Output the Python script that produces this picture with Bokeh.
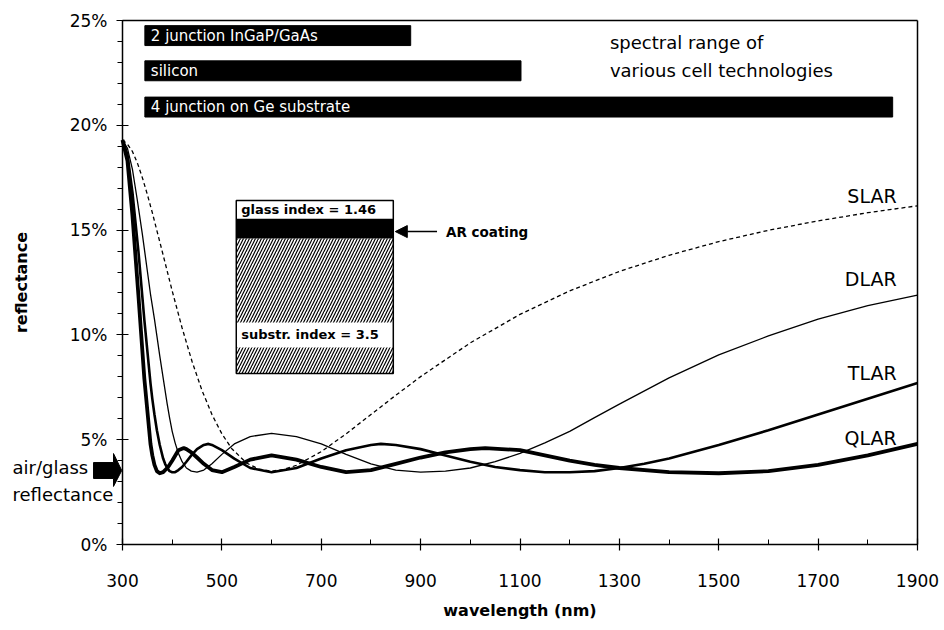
from bokeh.plotting import figure
from bokeh.models import (FixedTicker, PrintfTickFormatter, Label, Arrow, NormalHead,
                          PolyAnnotation, Range1d, LinearAxis)
from bokeh.embed import file_html
from bokeh.resources import INLINE
from bokeh.core.properties import value

FONT = "DejaVu Sans"

# ---------------- data ----------------
cell_names = ["2 junction InGaP/GaAs", "silicon", "4 junction  on Ge substrate"]
cell_start = [345, 345, 345]
cell_end = [880, 1102, 1850]

slar_wl = [300, 310, 320, 330, 340, 350, 360, 380, 400, 420, 440, 460, 480, 500, 520, 550, 575,
           600, 625, 650, 700, 750, 800, 850, 900, 1000, 1100, 1200, 1300, 1400, 1500, 1600,
           1700, 1800, 1900]
slar_r = [19.3, 19.1, 18.75, 18.2, 17.5, 16.7, 15.83, 13.98, 12.1, 10.33, 8.73, 7.35, 6.2, 5.28,
          4.57, 3.88, 3.6, 3.5, 3.58, 3.78, 4.43, 5.28, 6.2, 7.12, 8.01, 9.62, 10.98, 12.1, 13.03,
          13.8, 14.45, 14.99, 15.44, 15.83, 16.16]

dlar_wl = [300, 310, 320, 330, 340, 350, 356.3, 360, 364.3, 369.2, 375, 381.8, 390, 394.7, 400,
           405.9, 412.5, 420, 428.6, 438.5, 450, 463.6, 480, 500, 525, 557.1, 600, 650, 700, 750,
           800, 850, 900, 950, 1000, 1050, 1100, 1150, 1200, 1250, 1300, 1400, 1500, 1600, 1700,
           1800, 1900]
dlar_r = [19.3, 18.9, 17.9, 16.4, 14.8, 13.05, 11.95, 11.4, 10.75, 9.95, 9.0, 7.95, 6.7, 6.05, 5.4,
          4.85, 4.35, 3.95, 3.65, 3.5, 3.45, 3.55, 3.85, 4.3, 4.8, 5.15, 5.3, 5.15, 4.8, 4.3, 3.85,
          3.55, 3.45, 3.5, 3.65, 3.95, 4.35, 4.85, 5.4, 6.05, 6.7, 7.95, 9.05, 9.95, 10.75, 11.4,
          11.9]

tlar_wl = [300, 310, 320, 332, 344, 356.3, 360, 364.3, 369.2, 375, 381.8, 385.7, 390, 394.7, 400,
           405.9, 412.5, 420, 428.6, 438.5, 450, 463.6, 473.1, 480, 500, 525, 557.1, 600, 650,
           700, 750, 800, 820, 850, 900, 950, 1000, 1050, 1100, 1150, 1200, 1250, 1300, 1350,
           1400, 1500, 1600, 1700, 1800, 1900]
tlar_r = [19.3, 18.6, 16.8, 14.0, 10.7, 7.7, 6.95, 6.2, 5.45, 4.75, 4.1, 3.85, 3.65, 3.5, 3.45,
          3.45, 3.55, 3.7, 3.95, 4.25, 4.55, 4.75, 4.8, 4.75, 4.5, 4.1, 3.65, 3.45, 3.65, 4.1,
          4.5, 4.75, 4.8, 4.75, 4.55, 4.25, 3.95, 3.7, 3.55, 3.45, 3.45, 3.5, 3.65, 3.85, 4.1,
          4.75, 5.45, 6.2, 6.95, 7.7]

qlar_wl = [300, 310, 320, 332, 344, 356.3, 360, 364.3, 369.2, 375, 381.8, 390, 394.7, 400, 412.5,
           423.3, 428.6, 438.5, 450, 463.6, 480, 500, 525, 557.1, 600, 650, 700, 750, 800, 850,
           900, 950, 1000, 1030, 1100, 1200, 1250, 1300, 1400, 1500, 1600, 1700, 1800, 1900]
qlar_r = [19.3, 18.3, 15.7, 11.9, 7.9, 4.8, 4.25, 3.8, 3.5, 3.4, 3.45, 3.65, 3.8, 4.0, 4.5, 4.6,
          4.55, 4.4, 4.15, 3.85, 3.55, 3.45, 3.7, 4.05, 4.25, 4.05, 3.7, 3.45, 3.55, 3.85, 4.15,
          4.4, 4.55, 4.6, 4.5, 4.0, 3.8, 3.65, 3.45, 3.4, 3.5, 3.8, 4.25, 4.8]

curve_names = ["SLAR", "DLAR", "TLAR", "QLAR"]
air_glass_reflectance = 3.53

x_ticks = [300, 500, 700, 900, 1100, 1300, 1500, 1700, 1900]
x_minor = [400, 600, 800, 1000, 1200, 1400, 1600, 1800]
y_ticks = [0, 5, 10, 15, 20, 25]
y_minor = [1, 2, 3, 4, 6, 7, 8, 9, 11, 12, 13, 14, 16, 17, 18, 19, 21, 22, 23, 24]

# ---------------- layout constants ----------------
W, H = 944, 630
X_MIN, X_MAX = 300, 1900
Y_MIN, Y_MAX = 0, 25
PX_X0, PX_X1 = 122, 917      # pixel columns of 300 nm and 1900 nm
PX_Y1, PX_Y0 = 20, 544       # pixel rows of 25 % and 0 %
sx = (PX_X1 - PX_X0) / (X_MAX - X_MIN)
sy = (PX_Y0 - PX_Y1) / (Y_MAX - Y_MIN)
# the frame covers the whole canvas; axes are pinned with fixed_location
x_lo, x_hi = X_MIN - PX_X0 / sx, X_MAX + (W - PX_X1) / sx
y_lo, y_hi = Y_MIN - (H - PX_Y0) / sy, Y_MAX + PX_Y1 / sy

p = figure(width=W, height=H, x_range=Range1d(x_lo, x_hi), y_range=Range1d(y_lo, y_hi),
           output_backend="svg", toolbar_location=None,
           min_border_left=0, min_border_right=0, min_border_top=0, min_border_bottom=0)
p.xgrid.visible = False
p.ygrid.visible = False
p.outline_line_color = None
p.background_fill_color = "white"
p.border_fill_color = "white"

for ax in (p.xaxis[0], p.yaxis[0]):
    ax.axis_line_width = 1.5
    ax.axis_line_color = "black"
    ax.major_tick_line_color = "black"
    ax.minor_tick_line_color = "black"
    ax.major_tick_line_width = 1.2
    ax.minor_tick_line_width = 1
    ax.major_tick_in = 6
    ax.major_tick_out = 6
    ax.major_label_text_font = FONT
    ax.major_label_text_font_size = "17px"
    ax.major_label_text_color = "black"
    ax.axis_label_text_font = FONT
    ax.axis_label_text_font_size = "16px"
    ax.axis_label_text_font_style = "bold"
    ax.axis_label_text_color = "black"

p.xaxis.fixed_location = Y_MIN
p.xaxis.ticker = FixedTicker(ticks=x_ticks, minor_ticks=x_minor)
p.xaxis.bounds = (X_MIN, X_MAX)
p.xaxis.minor_tick_in = 5
p.xaxis.minor_tick_out = 0
p.xaxis.major_label_standoff = 23
p.xaxis.axis_label = "wavelength (nm)"
p.xaxis.axis_label_standoff = 11

p.yaxis.fixed_location = X_MIN
p.yaxis.ticker = FixedTicker(ticks=y_ticks, minor_ticks=y_minor)
p.yaxis.bounds = (Y_MIN, Y_MAX)
p.yaxis.formatter = PrintfTickFormatter(format="%d%%")
p.yaxis.minor_tick_in = 0
p.yaxis.minor_tick_out = 5
p.yaxis.major_label_standoff = 9
p.yaxis.axis_label = "reflectance"
p.yaxis.axis_label_standoff = 36

# top and right frame lines
top_axis = LinearAxis(fixed_location=Y_MAX, ticker=FixedTicker(ticks=[]), bounds=(X_MIN, X_MAX),
                      axis_line_width=1.5, axis_line_color="black",
                      major_tick_line_color=None, minor_tick_line_color=None,
                      major_label_text_font_size="0px")
p.add_layout(top_axis, "above")
right_axis = LinearAxis(fixed_location=X_MAX, ticker=FixedTicker(ticks=[]), bounds=(Y_MIN, Y_MAX),
                        axis_line_width=1.5, axis_line_color="black",
                        major_tick_line_color=None, minor_tick_line_color=None,
                        major_label_text_font_size="0px")
p.add_layout(right_axis, "right")

# ---------------- spectral range bars ----------------
bar_y = [24.28, 22.6, 20.87]
bar_h = 0.95
p.quad(left=cell_start, right=cell_end,
       bottom=[y - bar_h / 2 for y in bar_y], top=[y + bar_h / 2 for y in bar_y],
       fill_color="black", line_color="black")
p.text(x=[s + 12 for s in cell_start], y=bar_y, text=cell_names, text_color="white",
       text_font=value(FONT), text_font_size="15px", text_baseline="middle")
p.text(x=[1281, 1281], y=[23.95, 22.62], text=["spectral range of", "various cell technologies"],
       text_font=value(FONT), text_font_size="18px", text_baseline="middle", text_color="black")

# ---------------- curves ----------------
p.line(slar_wl, slar_r, line_color="black", line_width=1.3, line_dash="4 3")
p.line(dlar_wl, dlar_r, line_color="black", line_width=1.3)
p.line(tlar_wl, tlar_r, line_color="black", line_width=2.6)
p.line(qlar_wl, qlar_r, line_color="black", line_width=3.8, line_join="round")

p.text(x=[1858] * 4, y=[16.65, 12.69, 8.2, 5.06], text=curve_names,
       text_font=value(FONT), text_font_size="19px", text_align="right",
       text_baseline="middle", text_color="black")

# ---------------- inset: layer stack ----------------
ix0, ix1 = 529, 845
p.quad(left=[ix0], right=[ix1], bottom=[8.16], top=[14.6], fill_color="white",
       hatch_pattern="/", hatch_color="black", hatch_scale=6, hatch_weight=1.2, line_color=None)
p.quad(left=[ix0], right=[ix1], bottom=[9.4], top=[10.59], fill_color="white", line_color=None)
p.quad(left=[ix0], right=[ix1], bottom=[14.6], top=[15.55], fill_color="black", line_color=None)
p.quad(left=[ix0], right=[ix1], bottom=[15.55], top=[16.41], fill_color="white", line_color=None)
p.quad(left=[ix0], right=[ix1], bottom=[8.16], top=[16.41], fill_color=None,
       line_color="black", line_width=1.5)
p.text(x=[ix0 + 10, ix0 + 10], y=[15.98, 10.0], text=["glass index = 1.46", "substr. index = 3.5"],
       text_font=value(FONT), text_font_size="13px", text_font_style="bold",
       text_baseline="middle", text_color="black")
p.add_layout(Arrow(end=NormalHead(size=12, fill_color="black", line_color="black"),
                   x_start=933, y_start=14.93, x_end=849, y_end=14.93,
                   line_color="black", line_width=1.5))
p.text(x=[951], y=[14.93], text=["AR coating"], text_font=value(FONT), text_font_size="13.5px",
       text_font_style="bold", text_baseline="middle", text_color="black")

# ---------------- air/glass annotation ----------------
p.add_layout(PolyAnnotation(
    xs=[241.7, 281.9, 281.9, 298.5, 281.9, 281.9, 241.7],
    ys=[air_glass_reflectance + 0.38, air_glass_reflectance + 0.38, air_glass_reflectance + 0.81,
        air_glass_reflectance, air_glass_reflectance - 0.76, air_glass_reflectance - 0.38,
        air_glass_reflectance - 0.38],
    fill_color="black", fill_alpha=1.0, line_color="black", line_alpha=1.0))
p.add_layout(Label(x=78.6, y=3.67, text="air/glass", text_font=FONT, text_font_size="18px",
                   text_baseline="middle", text_color="black"))
p.add_layout(Label(x=78.6, y=2.39, text="reflectance", text_font=FONT, text_font_size="18px",
                   text_baseline="middle", text_color="black"))

open("out.html", "w").write(file_html(p, INLINE))
